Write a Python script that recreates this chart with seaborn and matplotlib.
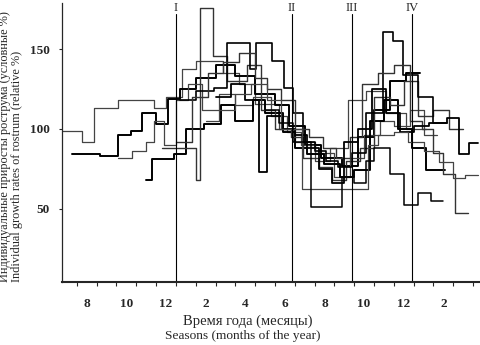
import matplotlib
matplotlib.use("Agg")
import matplotlib.pyplot as plt
import seaborn as sns
import pandas as pd
import numpy as np

sns.set_style("ticks")
plt.rcParams['font.family'] = ['Liberation Serif', 'DejaVu Serif']

# month tick labels (centred on each month interval)
tick_labels = ["8", "10", "12", "2", "4", "6", "8", "10", "12", "2"]
tick_pos = [7.5, 9.5, 11.5, 13.5, 15.5, 17.5, 19.5, 21.5, 23.5, 25.5]

# season boundaries
season_names = ["I", "II", "III", "IV"]
season_pos = [12.0, 17.85, 20.9, 23.93]

# step series: edges (months) and values (relative %)
s1_edges = [6.25, 7.25, 7.85, 9.1, 10.9, 11.5, 12.3, 13.0, 14.4, 15.2, 16.0, 17.2, 18.0, 19.0, 19.8, 20.7, 21.6, 22.6, 23.6, 24.6]
s1_vals = [99, 92, 113, 118, 113, 120, 138, 143, 135, 128, 116, 100, 92, 80, 88, 118, 124, 110, 100]

s2_edges = [6.75, 8.15, 9.1, 9.75, 10.3, 11.0, 11.6, 12.2, 13.0, 14.0, 15.0, 16.0, 17.0, 17.7, 18.5, 19.3, 20.4, 21.2, 22.0, 22.8, 23.6, 24.3]
s2_vals = [84, 83, 96, 99, 110, 103, 119, 125, 132, 140, 133, 122, 115, 102, 90, 82, 77, 95, 112, 130, 135]

s3_edges = [9.1, 9.8, 10.5, 10.9, 11.4, 12.0, 12.6, 13.3, 14.2, 15.0, 15.9, 16.8, 17.6, 18.3, 19.0, 20.0, 20.8, 21.5, 22.3, 23.0, 23.8, 24.5, 25.2]
s3_vals = [82, 86, 92, 105, 90, 118, 128, 112, 122, 115, 120, 108, 98, 90, 85, 70, 82, 96, 105, 102, 112, 96]

s4_edges = [10.5, 10.8, 11.9, 12.5, 13.4, 14.3, 15.0, 15.9, 16.5, 17.4, 18.0, 18.6, 19.5, 20.3, 21.0, 21.8, 22.5, 23.2, 23.9, 24.6, 25.6]
s4_vals = [68, 81, 84, 100, 103, 115, 105, 118, 110, 98, 88, 84, 78, 70, 74, 105, 118, 100, 88, 74]

s5_edges = [11.3, 13.03, 13.2, 13.88, 14.6, 15.6, 16.3, 17.0, 17.8, 18.4, 19.2, 19.9, 20.6, 21.3, 22.0, 22.8, 23.5, 24.2, 25.0, 25.8, 26.5]
s5_vals = [88, 68, 176, 146, 130, 140, 112, 100, 95, 82, 76, 68, 80, 88, 120, 115, 130, 108, 112, 100]

s6_edges = [12.2, 13.0, 13.9, 14.58, 15.74, 16.04, 16.84, 17.45, 17.9, 18.4, 19.0, 19.6, 20.2, 20.9, 21.6, 22.47, 22.97, 23.48, 24.2, 25.0, 25.7]
s6_vals = [118, 124, 126, 154, 138, 154, 143, 126, 110, 92, 86, 80, 76, 85, 110, 161, 155, 134, 120, 104]

s7_edges = [12.0, 12.8, 13.6, 14.4, 15.2, 16.0, 16.6, 17.3, 18.0, 18.7, 19.4, 20.1, 20.8, 21.4, 22.2, 23.0, 23.8, 24.4, 25.0, 25.5, 26.1, 26.75]
s7_vals = [92, 120, 135, 142, 148, 132, 125, 118, 100, 95, 88, 82, 95, 128, 135, 140, 105, 100, 85, 72, 47]

s8_edges = [14.0, 14.8, 15.5, 16.2, 16.6, 17.4, 18.0, 18.6, 19.2, 19.9, 20.5, 21.2, 21.9, 22.6, 23.3, 24.0, 24.8, 25.7, 26.3, 26.8, 27.25]
s8_vals = [120, 128, 118, 73, 108, 100, 96, 88, 75, 66, 92, 100, 125, 110, 98, 102, 104, 107, 84, 91]

s9_edges = [13.5, 14.2, 15.0, 15.8, 16.6, 17.3, 18.35, 21.7, 22.2, 23.0, 23.7, 24.5, 25.3, 26.0, 26.6, 27.25]
s9_vals = [105, 112, 122, 128, 118, 100, 62, 90, 96, 98, 92, 86, 79, 69, 71]

s10_edges = [16.5, 17.2, 17.9, 18.8, 20.4, 21.0, 21.6, 22.0, 22.8, 23.5, 24.2, 24.9, 25.5]
s10_vals = [112, 104, 92, 51, 70, 66, 80, 88, 72, 52, 60, 55]

series = [
    ("s1", s1_edges, s1_vals, "#444444", 0.9),
    ("s2", s2_edges, s2_vals, "black", 1.4),
    ("s3", s3_edges, s3_vals, "#444444", 0.9),
    ("s4", s4_edges, s4_vals, "black", 1.4),
    ("s5", s5_edges, s5_vals, "#333333", 1.0),
    ("s6", s6_edges, s6_vals, "black", 1.2),
    ("s7", s7_edges, s7_vals, "#333333", 1.0),
    ("s8", s8_edges, s8_vals, "black", 1.3),
    ("s9", s9_edges, s9_vals, "#444444", 0.9),
    ("s10", s10_edges, s10_vals, "black", 1.1),
]

fig = plt.figure(figsize=(4.8, 3.45), dpi=100)
ax = fig.add_axes([62/480, 1 - 282/345, 1 - 62/480, (282 - 3)/345])

for name, edges, vals, col, lw in series:
    df = pd.DataFrame({"month": edges, "value": list(vals) + [vals[-1]]})
    sns.lineplot(data=df, x="month", y="value", estimator=None, sort=False,
                 drawstyle="steps-post", color=col, linewidth=lw, ax=ax)

ax.set_xlim(6.25, 27.35)
ax.set_ylim(3.8, 179.2)

for name, pos in zip(season_names, season_pos):
    ax.plot([pos, pos], [3.8, 172.5], color="black", linewidth=0.8)
    ax.text(pos, 176.2, name, ha="center", va="center", fontsize=9)

ax.set_xticks(tick_pos)
ax.set_xticklabels(tick_labels, fontweight="bold", fontsize=9.5)
ax.tick_params(axis="x", which="major", length=0, pad=11.5)
ax.set_xticks(np.arange(7, 28), minor=True)
ax.tick_params(axis="x", which="minor", length=3, width=0.8, direction="out")

ax.set_yticks([50, 100, 150])
ax.set_yticklabels(["50", "100", "150"], fontweight="bold", fontsize=9.5)
ax.tick_params(axis="y", length=2, width=0.8, pad=7)

ax.spines["top"].set_visible(False)
ax.spines["right"].set_visible(False)
ax.spines["bottom"].set_linewidth(1.5)
ax.spines["left"].set_linewidth(0.9)
ax.set_xlabel("")
ax.set_ylabel("")

fig.text(248/480, 1 - 321/345, "Время года (месяцы)", ha="center", va="center", fontsize=10.5)
fig.text(243/480, 1 - 336/345, "Seasons (months of the year)", ha="center", va="center", fontsize=9.6)

fig.text(5.5/480, 1 - 282/345, "Индивидуальные приросты рострума (условные %)",
         rotation=90, ha="center", va="bottom", fontsize=8.8)
fig.text(17.5/480, 1 - 282/345, "Individual growth rates of rostrum (relative %)",
         rotation=90, ha="center", va="bottom", fontsize=8.8)

fig.savefig("out.png", dpi=100)
